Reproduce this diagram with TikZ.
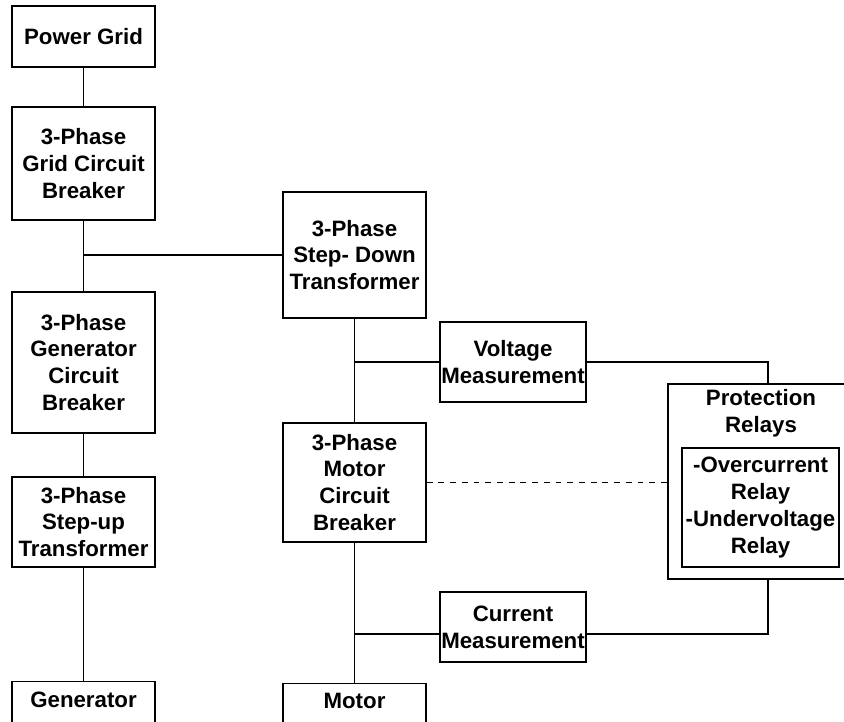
\documentclass[tikz,border=0pt]{standalone}
\usepackage{fontspec}
\setmainfont{Liberation Sans}
\usepackage{tikz}
\usetikzlibrary{positioning,calc}

\begin{document}
\begin{tikzpicture}[x=0.03cm, y=-0.03cm, line width=1.2pt,
    font=\fontsize{19}{23}\selectfont\bfseries,
    box/.style={draw, align=center, inner sep=0pt, minimum width=143*0.03cm},
    tap/.style={dash pattern=on 5pt off 5pt}]
    \useasboundingbox (0,0) rectangle (844,721);
    \clip (0,0) rectangle (844,721);

    \node[box, minimum height=61*0.03cm] (grid) at (83.5,36.5) {Power Grid};
    \node[box, minimum height=113*0.03cm] (gridcb) at (83.5,163.5) {3-Phase\\Grid Circuit\\Breaker};
    \node[box, minimum height=141*0.03cm] (gencb) at (83.5,362.5) {3-Phase\\Generator\\Circuit\\Breaker};
    \node[box, minimum height=90*0.03cm] (stepup) at (83.5,522) {3-Phase\\Step-up\\Transformer};
    \node[box, anchor=north, inner ysep=9pt, text depth=60pt] (gen) at (83.5,681) {Generator};

    \node[box, minimum height=126*0.03cm] (stepdown) at (354.5,255) {3-Phase\\Step- Down\\Transformer};
    \node[box, minimum height=119*0.03cm] (motorcb) at (354.5,482.5) {3-Phase\\Motor\\Circuit\\Breaker};
    \node[box, anchor=north, inner ysep=8pt, text depth=60pt] (motor) at (354.5,683) {Motor};

    \node[box, minimum width=146*0.03cm, minimum height=80*0.03cm] (vmeas) at (513,362) {Voltage\\Measurement};
    \node[box, minimum width=146*0.03cm, minimum height=70*0.03cm] (cmeas) at (513,627) {Current\\Measurement};

    \node[box, minimum width=186*0.03cm, minimum height=195*0.03cm] (relays) at (761,481.5) {};
    \node[align=center, inner sep=0pt] (prtitle) at (761,413) {Protection\\Relays};
    \node[box, minimum width=157*0.03cm, minimum height=119*0.03cm] (relaylist) at (760.5,507.5) {-Overcurrent\\Relay\\-Undervoltage\\Relay};

    \coordinate (ctap) at ([yshift=-0.21cm]cmeas.west);

    \draw (grid) -- (gridcb);
    \draw (gridcb) -- (gencb);
    \draw (gencb) -- (stepup);
    \draw (stepup) -- (gen);
    \draw (gridcb.south |- stepdown.west) -- (stepdown.west);

    \draw (stepdown) -- (motorcb);
    \draw (motorcb.south) -- (motor.north);
    \draw (stepdown.south |- vmeas.west) -- (vmeas.west);
    \draw (motorcb.south |- ctap) -- (ctap);

    \draw (vmeas.east) -| ([xshift=0.21cm]relays.north);
    \draw ([xshift=0.21cm]relays.south) |- (ctap -| cmeas.east);
    \draw[tap] (motorcb.east) -- (motorcb.east -| relays.west);
\end{tikzpicture}
\end{document}
